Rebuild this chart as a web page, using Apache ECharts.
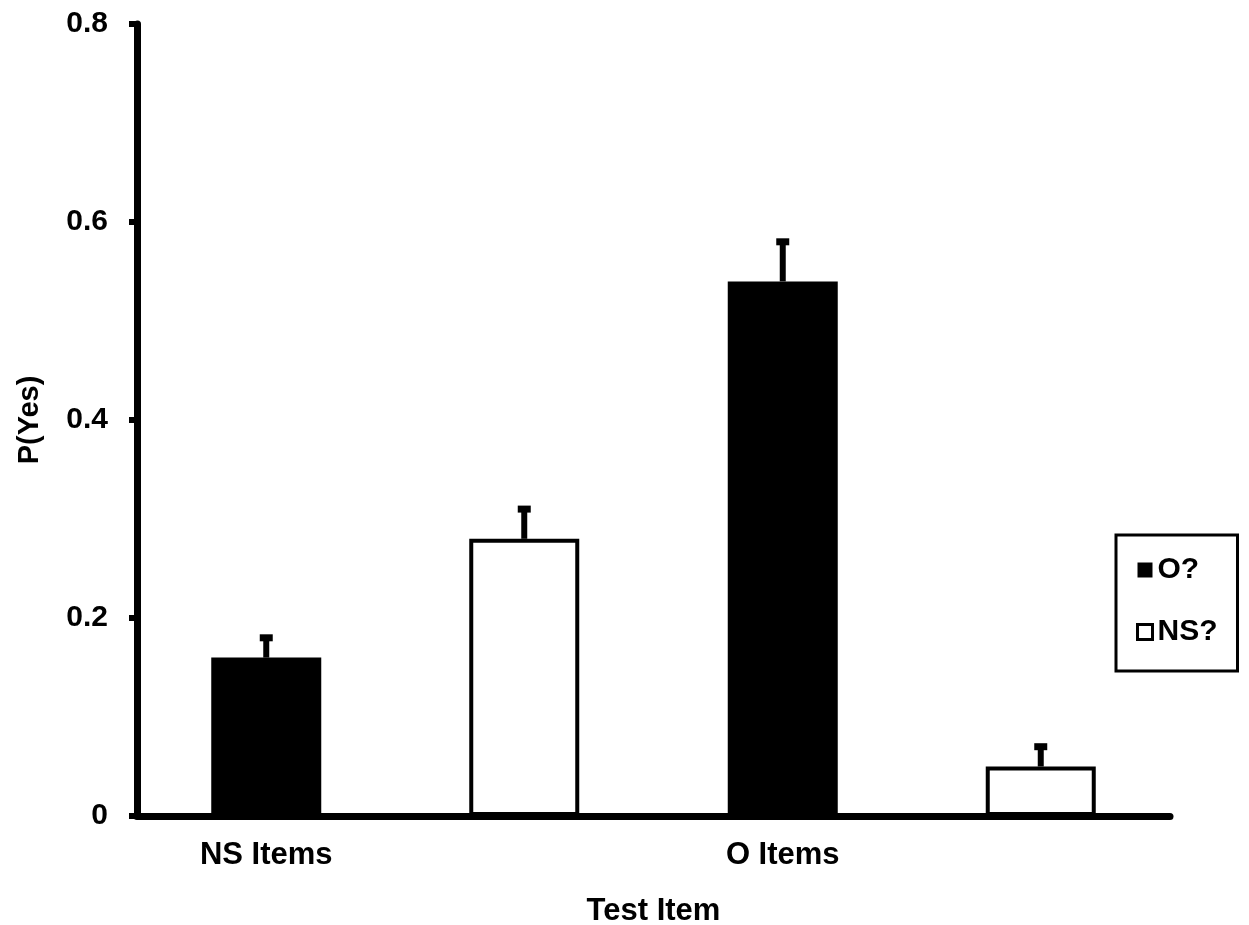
<!DOCTYPE html>
<html>
<head>
<meta charset="utf-8">
<title>P(Yes) by Test Item</title>
<script src="https://cdn.jsdelivr.net/npm/echarts@6/dist/echarts.min.js"></script>
<style>
  html, body { margin: 0; padding: 0; background: #fff; }
  #chart { width: 1249px; height: 925px; }
</style>
</head>
<body>
<div id="chart"></div>
<script>
// Test item groups on the x axis
const categories = ['NS Items', 'O Items'];

// Mean proportion of "yes" responses per question type
const oValues = [0.16, 0.54];
const nsValues = [0.28, 0.05];

// Upper error bar extents (added to the mean)
const oErrors = [0.02, 0.04];
const nsErrors = [0.03, 0.02];

// Y axis range and step
const yMin = 0;
const yMax = 0.8;
const yStep = 0.2;

const FONT = '"Liberation Sans", Arial, Helvetica, sans-serif';
const BAR_WIDTH = 110;
const BAR_GAP_PX = 148;
const SHIFT = (BAR_WIDTH + BAR_GAP_PX) / 2;

function errorSeries(name, values, errors, sign) {
  return {
    name: name,
    type: 'custom',
    z: 5,
    encode: { x: 0, y: 1 },
    data: values.map((v, i) => [i, v, errors[i]]),
    renderItem: function (params, api) {
      const idx = api.value(0);
      const v = api.value(1);
      const e = api.value(2);
      const base = api.coord([idx, v]);
      const top = api.coord([idx, v + e]);
      const cx = base[0] + sign * SHIFT;
      return {
        type: 'group',
        children: [
          {
            type: 'rect',
            shape: { x: cx - 3, y: top[1], width: 6, height: base[1] - top[1] },
            style: { fill: '#000' }
          },
          {
            type: 'rect',
            shape: { x: cx - 6.5, y: top[1] - 3.5, width: 13, height: 7 },
            style: { fill: '#000' }
          }
        ]
      };
    }
  };
}

const chart = echarts.init(document.getElementById('chart'), null, { renderer: 'canvas' });

chart.setOption({
  backgroundColor: '#ffffff',
  animation: false,
  textStyle: { fontFamily: FONT },
  grid: { left: 137, right: 79, top: 24, bottom: 109, outerBoundsMode: 'none', containLabel: false },
  legend: {
    orient: 'vertical',
    left: 1116,
    top: 535,
    data: [
      { name: 'O?' },
      { name: 'NS?', itemStyle: { borderWidth: 3 } }
    ],
    icon: 'rect',
    itemWidth: 15,
    itemHeight: 15,
    itemGap: 32,
    padding: [20, 20, 24, 20],
    borderColor: '#000',
    borderWidth: 3,
    textStyle: { fontFamily: FONT, fontSize: 30, fontWeight: 'bold', color: '#000' }
  },
  xAxis: {
    type: 'category',
    data: categories,
    name: 'Test Item',
    nameLocation: 'middle',
    nameGap: 80,
    nameTextStyle: { fontFamily: FONT, fontSize: 31, fontWeight: 'bold', color: '#000' },
    axisLine: { show: true, lineStyle: { color: '#000', width: 7 } },
    axisTick: { show: false },
    axisLabel: {
      fontFamily: FONT,
      fontSize: 31,
      fontWeight: 'bold',
      color: '#000',
      margin: 24,
      padding: [0, 258, 0, 0]
    },
    splitLine: { show: false }
  },
  yAxis: {
    type: 'value',
    min: yMin,
    max: yMax,
    interval: yStep,
    name: 'P(Yes)',
    nameLocation: 'middle',
    nameGap: 93,
    nameTextStyle: { fontFamily: FONT, fontSize: 29, fontWeight: 'bold', color: '#000' },
    axisLine: { show: true, lineStyle: { color: '#000', width: 7 } },
    axisTick: { show: true, length: 8, lineStyle: { color: '#000', width: 6 } },
    axisLabel: {
      fontFamily: FONT,
      fontSize: 30,
      fontWeight: 'bold',
      color: '#000',
      margin: 29
    },
    splitLine: { show: false }
  },
  series: [
    {
      name: 'O?',
      type: 'bar',
      data: oValues,
      barWidth: BAR_WIDTH,
      barGap: (BAR_GAP_PX / BAR_WIDTH * 100) + '%',
      itemStyle: { color: '#000' }
    },
    {
      name: 'NS?',
      type: 'bar',
      data: nsValues,
      barWidth: BAR_WIDTH,
      itemStyle: { color: '#fff', borderColor: '#000', borderWidth: 4 }
    },
    errorSeries('O? error', oValues, oErrors, -1),
    errorSeries('NS? error', nsValues, nsErrors, 1)
  ]
});
</script>
</body>
</html>
